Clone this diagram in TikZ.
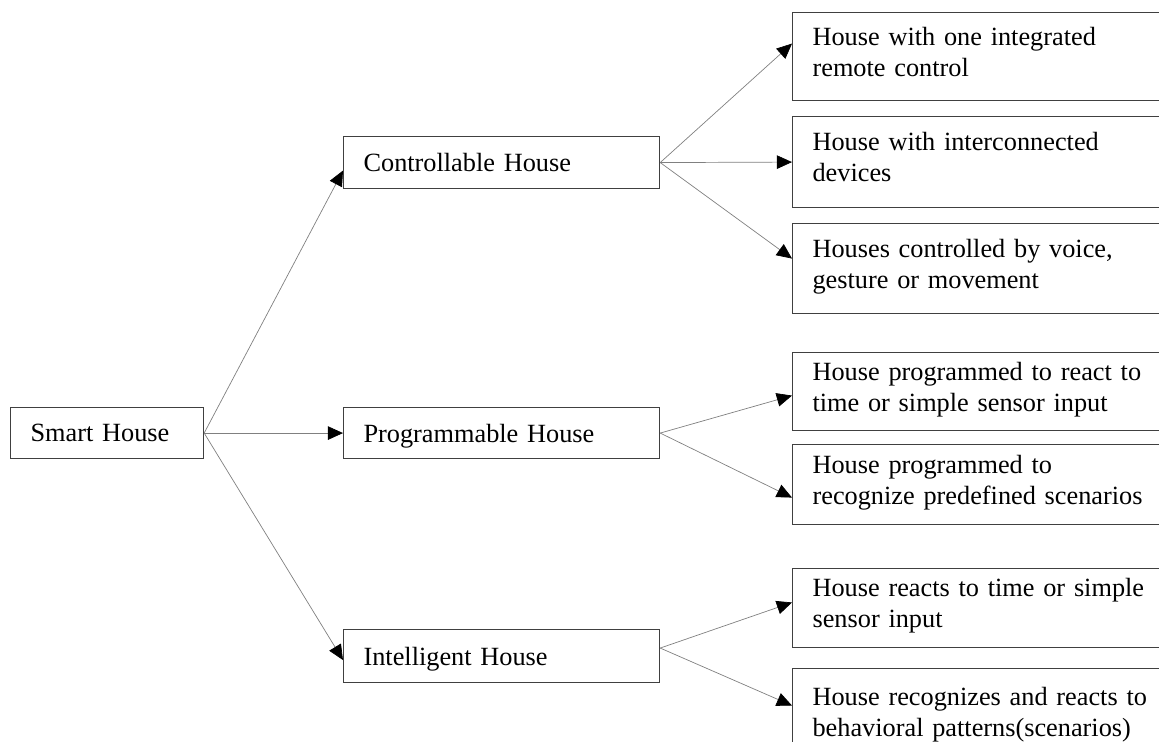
\documentclass[tikz,border=0pt]{standalone}
\usepackage{fontspec}
\setmainfont{Liberation Serif}
\usepackage{tikz}
\usetikzlibrary{arrows.meta,positioning,calc}

\begin{document}
\begin{tikzpicture}[x=0.025cm,y=-0.025cm,
    box/.style={draw=black!75, line width=0.8pt, anchor=north west, align=left,
      inner xsep=0.5cm, inner ysep=0pt, text depth=0pt,
      font=\fontsize{18.7pt}{22pt}\selectfont},
    mainbox/.style={box, text width=6.9cm, minimum height=1.3cm},
    leafbox/.style={box, text width=8.575cm, text depth=1.03cm},
    link/.style={draw=black!50, line width=0.5pt,
      -{Triangle[length=0.38cm,width=0.34cm,color=black]}}]
    \useasboundingbox (0,0) rectangle (1159,742);
    \clip (0,0) rectangle (1159,742);

    \node[box, text width=3.825cm, minimum height=1.275cm] (smart) at (10,407) {Smart House};

    \node[mainbox] (ctrl) at (343,136) {Controllable House};
    \node[mainbox, minimum height=1.275cm] (prog) at (343,407) {Programmable House};
    \node[mainbox, minimum height=1.325cm] (intel) at (343,629) {Intelligent House};

    \node[leafbox, minimum height=2.2cm] (remote) at (792,12) {House with one integrated\\remote control};
    \node[leafbox, minimum height=2.275cm] (devices) at (792,116) {House with interconnected\\devices};
    \node[leafbox, minimum height=2.25cm] (voice) at (792,223) {Houses controlled by voice,\\gesture or movement};

    \node[leafbox, minimum height=1.95cm] (timed) at (792,352) {House programmed to react to\\time or simple sensor input};
    \node[leafbox, minimum height=2cm] (scenes) at (792,444) {House programmed to\\recognize predefined scenarios};

    \node[leafbox, minimum height=1.975cm] (reacts) at (792,568) {House reacts to time or simple\\sensor input};
    \node[leafbox, minimum height=2.4cm] (patterns) at (792,668) {House recognizes and reacts to\\behavioral patterns(scenarios)};

    \draw[link] (smart.east) -- ([yshift=-0.2cm]ctrl.west);
    \draw[link] (smart.east) -- (prog.west);
    \draw[link] (smart.east) -- ([yshift=-0.1cm]intel.west);

    \draw[link] (ctrl.east) -- ([yshift=0.325cm]remote.west);
    \draw[link] (ctrl.east) -- (devices.west);
    \draw[link] (ctrl.east) -- ([yshift=0.25cm]voice.west);

    \draw[link] (prog.east) -- ([yshift=-0.1cm]timed.west);
    \draw[link] (prog.east) -- ([yshift=-0.325cm]scenes.west);

    \draw[link] ([yshift=0.2cm]intel.east) -- ([yshift=0.14cm]reacts.west);
    \draw[link] ([yshift=0.2cm]intel.east) -- ([yshift=0.275cm]patterns.west);
\end{tikzpicture}
\end{document}
